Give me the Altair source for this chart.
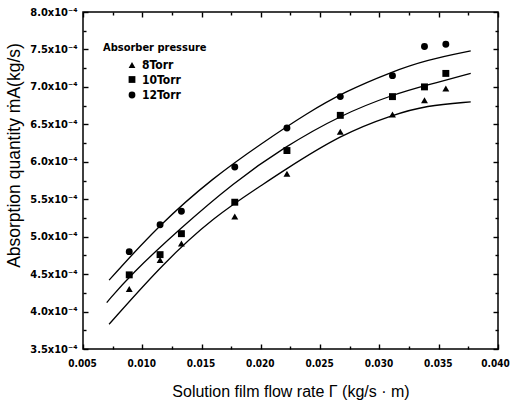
import altair as alt
import pandas as pd

# ---------------- data ----------------
flow_rate = [0.0089, 0.0115, 0.0133, 0.0178, 0.0222, 0.0267, 0.0311, 0.0338, 0.0356]
torr8 = [4.30, 4.69, 4.91, 5.27, 5.84, 6.40, 6.63, 6.82, 6.98]
torr10 = [4.49, 4.76, 5.04, 5.46, 6.15, 6.62, 6.87, 7.00, 7.18]
torr12 = [4.80, 5.16, 5.34, 5.93, 6.45, 6.87, 7.15, 7.54, 7.57]
series_names = ["8Torr", "10Torr", "12Torr"]
series_shapes = ["triangle-up", "square", "circle"]

fit8_x = [0.0072, 0.0118, 0.0160, 0.0202, 0.0217, 0.0268, 0.0312, 0.0339, 0.0377]
fit8_y = [3.83, 4.65, 5.26, 5.70, 5.86, 6.37, 6.63, 6.75, 6.80]
fit10_x = [0.0070, 0.0090, 0.0132, 0.0177, 0.0219, 0.0268, 0.0312, 0.0339, 0.0377]
fit10_y = [4.12, 4.49, 5.11, 5.72, 6.19, 6.63, 6.90, 7.02, 7.18]
fit12_x = [0.0072, 0.0115, 0.0160, 0.0200, 0.0240, 0.0270, 0.0310, 0.0340, 0.0377]
fit12_y = [4.42, 5.17, 5.79, 6.24, 6.66, 6.93, 7.20, 7.36, 7.48]

x_major = [0.005, 0.010, 0.015, 0.020, 0.025, 0.030, 0.035, 0.040]
x_minor = [0.0075, 0.0125, 0.0175, 0.0225, 0.0275, 0.0325, 0.0375]
y_major = [3.5, 4.0, 4.5, 5.0, 5.5, 6.0, 6.5, 7.0, 7.5, 8.0]
y_minor = [3.75, 4.25, 4.75, 5.25, 5.75, 6.25, 6.75, 7.25, 7.75]

# ---------------- tables ----------------
pts = pd.DataFrame({
    "flow": flow_rate * 3,
    "absorption": torr8 + torr10 + torr12,
    "series": [series_names[0]] * len(flow_rate) + [series_names[1]] * len(flow_rate) + [series_names[2]] * len(flow_rate),
})
fits = pd.DataFrame({
    "flow": fit8_x + fit10_x + fit12_x,
    "absorption": fit8_y + fit10_y + fit12_y,
    "series": [series_names[0]] * len(fit8_x) + [series_names[1]] * len(fit10_x) + [series_names[2]] * len(fit12_x),
})

W, H = 415, 337
NARROW = "Liberation Sans Narrow, Arial Narrow, DejaVu Sans Condensed, sans-serif"
SANS = "Liberation Sans, Arial, sans-serif"

xscale = alt.Scale(domain=[0.005, 0.040], nice=False, zero=False)
yscale = alt.Scale(domain=[3.5, 8.0], nice=False, zero=False)


def tick_axis(orient, offset, values, size):
    # inward-pointing ticks: an axis of the opposite orient pushed across the plot
    return alt.Axis(orient=orient, offset=offset, values=values, tickSize=size,
                    labels=False, domain=False, grid=False, title=None,
                    ticks=True, tickColor="black", tickWidth=1.4)


main_x = alt.Axis(orient="bottom", values=x_major, format=".3f", ticks=False, domain=False,
                  grid=False, labelPadding=9, labelFont=NARROW, labelFontSize=10,
                  labelFontWeight="bold", labelColor="black", labelFlush=False,
                  labelOverlap=False,
                  labelOffset={"condition": {"test": "datum.value > 0.0395", "value": -3}, "value": -1},
                  title="Solution film flow rate Γ  (kg/s · m)", titleFont=SANS,
                  titleFontSize=16, titleFontWeight="normal", titleColor="black",
                  titleY=47, titleBaseline="alphabetic")
main_y = alt.Axis(orient="left", values=y_major, ticks=False, domain=False, grid=False,
                  labelExpr="format(datum.value, '.1f') + 'x10⁻⁴'",
                  labelPadding=6, labelFont=NARROW, labelFontSize=11,
                  labelFontWeight="bold", labelColor="black", labelFlush=False,
                  labelOverlap=False,
                  title="Absorption quantity ṁA(kg/s)", titleFont=SANS,
                  titleFontSize=17.5, titleFontWeight="normal", titleColor="black",
                  titleX=-64, titleY=143, titleBaseline="alphabetic")

points = alt.Chart(pts).mark_point(filled=True, color="black", opacity=1, size=48).encode(
    x=alt.X("flow:Q", scale=xscale, axis=main_x),
    y=alt.Y("absorption:Q", scale=yscale, axis=main_y),
    shape=alt.Shape("series:N",
                    scale=alt.Scale(domain=series_names, range=series_shapes),
                    legend=alt.Legend(title="Absorber pressure", orient="none",
                                      legendX=20, legendY=30, padding=0,
                                      titleFont=NARROW, titleFontSize=11,
                                      titleFontWeight="bold", titleColor="black",
                                      titlePadding=6,
                                      labelFont=NARROW, labelFontSize=12,
                                      labelFontWeight="bold", labelColor="black",
                                      symbolOffset=23, labelOffset=4,
                                      symbolSize=46, symbolFillColor="black",
                                      symbolStrokeColor="black", rowPadding=1.5)),
)

curves = alt.Chart(fits).mark_line(color="black", strokeWidth=1.3, interpolate="basis").encode(
    x=alt.X("flow:Q", scale=xscale, axis=tick_axis("top", -H, x_major, 5)),
    y=alt.Y("absorption:Q", scale=yscale, axis=tick_axis("right", -W, y_major, 5)),
    detail="series:N",
)

ghost1 = alt.Chart(pts).mark_point(opacity=0).encode(
    x=alt.X("flow:Q", scale=xscale, axis=tick_axis("bottom", -H, x_major, 5)),
    y=alt.Y("absorption:Q", scale=yscale, axis=tick_axis("left", -W, y_major, 5)),
)
ghost2 = alt.Chart(pts).mark_point(opacity=0).encode(
    x=alt.X("flow:Q", scale=xscale, axis=tick_axis("top", -H, x_minor, 3)),
    y=alt.Y("absorption:Q", scale=yscale, axis=tick_axis("right", -W, y_minor, 3)),
)
ghost3 = alt.Chart(pts).mark_point(opacity=0).encode(
    x=alt.X("flow:Q", scale=xscale, axis=tick_axis("bottom", -H, x_minor, 3)),
    y=alt.Y("absorption:Q", scale=yscale, axis=tick_axis("left", -W, y_minor, 3)),
)

chart = alt.layer(points, curves, ghost1, ghost2, ghost3).resolve_axis(
    x="independent", y="independent"
).properties(
    width=W, height=H,
    autosize=alt.AutoSizeParams(type="none"),
    padding={"left": 83, "top": 12, "right": 13, "bottom": 59},
    background="white",
).configure_view(stroke="black", strokeWidth=1.5)

chart.save("out.html", embed_options={"renderer": "svg", "actions": False})
